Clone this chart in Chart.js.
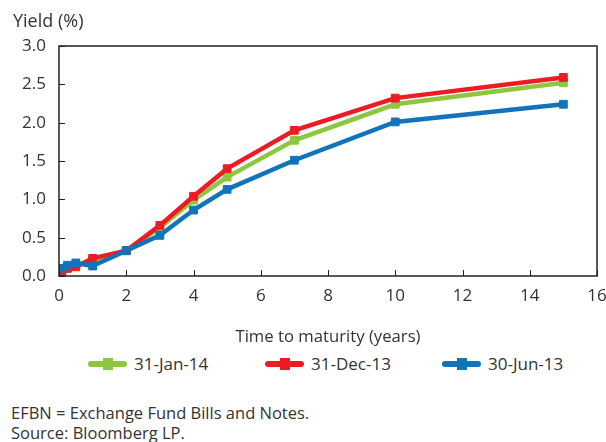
<!DOCTYPE html>
<html><head><meta charset="utf-8">
<script src="https://cdn.jsdelivr.net/npm/chart.js@4/dist/chart.umd.min.js"></script>
<style>
html,body{margin:0;padding:0;background:#fff;width:606px;height:442px;overflow:hidden;font-family:"Open Sans",sans-serif;color:#333;}
#wrap{position:absolute;left:0;top:0;width:606px;height:352px;}
.t{position:absolute;white-space:nowrap;}
.leg{position:absolute;top:353px;height:22px;font-size:17px;line-height:22px;white-space:nowrap;}
.mk{position:absolute;top:8px;height:6px;border-radius:3px;}
.sq{position:absolute;top:5px;width:10px;height:12px;}
</style></head><body>
<div id="wrap"><canvas id="c" width="606" height="352"></canvas></div>
<div class="t" style="left:13px;top:8px;font-size:18px;line-height:24px;">Yield (%)</div>
<div id="legend"></div>
<div class="t" style="left:11px;top:402px;font-size:16.5px;line-height:22px;">EFBN = Exchange Fund Bills and Notes.</div>
<div class="t" style="left:11px;top:422px;font-size:16.5px;line-height:22px;">Source: Bloomberg LP.</div>
<script>
const maturities = [0.083, 0.25, 0.5, 1, 2, 3, 4, 5, 7, 10, 15];
const jan14 = [0.05, 0.10, 0.14, 0.20, 0.33, 0.63, 0.99, 1.29, 1.77, 2.24, 2.52];
const dec13 = [0.03, 0.10, 0.12, 0.23, 0.33, 0.66, 1.04, 1.40, 1.90, 2.32, 2.59];
const jun13 = [0.10, 0.14, 0.17, 0.13, 0.33, 0.53, 0.86, 1.13, 1.51, 2.01, 2.24];
const seriesNames = ["31-Jan-14", "31-Dec-13", "30-Jun-13"];
const colors = ["#8DC63F", "#ED1C24", "#1174BB"];
const xTicks = [0, 2, 4, 6, 8, 10, 12, 14, 16];
const yTicks = [0.0, 0.5, 1.0, 1.5, 2.0, 2.5, 3.0];

const allSeries = [jan14, dec13, jun13];
const orders = [2, 1, 0];
const datasets = allSeries.map((s, i) => ({
  label: seriesNames[i],
  data: s.map((v, j) => ({x: maturities[j], y: v})),
  borderColor: colors[i],
  backgroundColor: colors[i],
  borderWidth: 4.5,
  pointStyle: 'rect',
  pointRadius: 5.5,
  pointBorderWidth: 1,
  pointBorderColor: colors[i],
  pointBackgroundColor: colors[i],
  tension: 0,
  order: orders[i]
}));

const frame = {
  id: 'frame',
  afterDraw(chart) {
    const {ctx, chartArea: a, scales} = chart;
    ctx.save();
    ctx.strokeStyle = '#222';
    ctx.lineWidth = 1.5;
    ctx.strokeRect(a.left, a.top, a.right - a.left, a.bottom - a.top);
    ctx.lineWidth = 1;
    ctx.beginPath();
    xTicks.forEach(v => {
      const px = Math.round(scales.x.getPixelForValue(v)) + 0.5;
      ctx.moveTo(px, a.bottom); ctx.lineTo(px, a.bottom - 6);
    });
    yTicks.forEach(v => {
      const py = Math.round(scales.y.getPixelForValue(v)) + 0.5;
      ctx.moveTo(a.left, py); ctx.lineTo(a.left + 6, py);
    });
    ctx.stroke();
    ctx.restore();
  }
};

new Chart(document.getElementById('c'), {
  type: 'line',
  data: {datasets},
  options: {
    responsive: false,
    animation: false,
    layout: {padding: {top: 46, right: 0, left: 0, bottom: 0}},
    plugins: {legend: {display: false}, tooltip: {enabled: false}},
    scales: {
      x: {
        type: 'linear', min: 0, max: 16,
        afterBuildTicks: s => { s.ticks = xTicks.map(v => ({value: v})); },
        afterFit: s => { s.height = 76; s.paddingRight = 9; s.paddingLeft = 0; },
        grid: {display: false, drawTicks: false},
        border: {display: false},
        ticks: {padding: 10, color: '#333', font: {family: 'Open Sans', size: 17}, maxRotation: 0},
        title: {display: true, text: 'Time to maturity (years)', color: '#333', font: {family: 'Open Sans', size: 16.7}, padding: {top: 4, bottom: 5}}
      },
      y: {
        min: 0, max: 3,
        afterBuildTicks: s => { s.ticks = yTicks.map(v => ({value: v})); },
        afterFit: s => { s.width = 59; },
        grid: {display: false, drawTicks: false},
        border: {display: false},
        ticks: {padding: 13, color: '#333', font: {family: 'Open Sans', size: 17}, callback: v => v.toFixed(1)}
      }
    }
  },
  plugins: [frame]
});

// legend
const legPos = [88, 265, 442];
const leg = document.getElementById('legend');
seriesNames.forEach((n, i) => {
  const d = document.createElement('div');
  d.className = 'leg';
  d.style.left = legPos[i] + 'px';
  d.innerHTML = `<span class="mk" style="left:0;width:39px;background:${colors[i]}"></span>` +
    `<span class="sq" style="left:15px;background:${colors[i]}"></span>` +
    `<span style="position:absolute;left:46px;top:0">${n}</span>`;
  leg.appendChild(d);
});
</script>
</body></html>
